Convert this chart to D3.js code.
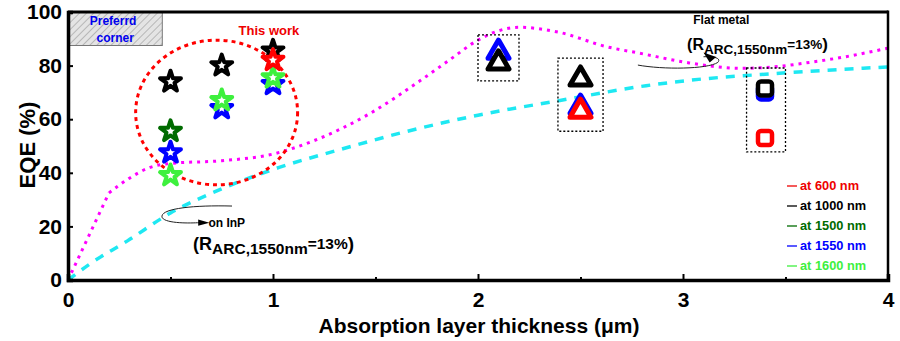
<!DOCTYPE html>
<html><head><meta charset="utf-8">
<script src="https://cdn.jsdelivr.net/npm/d3@7"></script>
<style>
html,body{margin:0;padding:0;background:#fff;}
svg{display:block;font-family:"Liberation Sans",Arial,sans-serif;font-weight:bold;}
</style></head>
<body><svg id="c" width="900" height="341"></svg>
<script>
// ---- data ----
const xTicks = [0, 1, 2, 3, 4];
const xMinor = [0.5, 1.5, 2.5, 3.5];
const yTicks = [0, 20, 40, 60, 80, 100];
const legendLabels = ["at 600 nm", "at 1000 nm", "at 1500 nm", "at 1550 nm", "at 1600 nm"];
const legendColors = ["#ee0000", "#000000", "#006b00", "#0000ff", "#3ef03e"];

// flat metal (magenta dotted) curve
const flatX = [0, 0.2, 0.3, 0.4, 0.5, 0.75, 1.0, 1.2, 1.47, 1.72, 1.85, 2.0, 2.1, 2.2, 2.39, 2.63, 2.79, 3.03, 3.28, 3.44, 3.6, 3.77, 4.0];
const flatY = [0, 32.5, 38, 42, 43.5, 44.5, 47, 52, 62, 74.5, 81.5, 89.5, 93, 94.3, 92.5, 87, 84.6, 81, 79, 79.5, 81, 83, 86.5];
// on InP (cyan dashed) curve
const inpX = [0, 0.107, 0.29, 0.5, 0.75, 1.03, 1.31, 1.63, 2.0, 2.4, 2.82, 3.03, 3.44, 4.0];
const inpY = [0, 6, 14.6, 25, 34, 42, 48.3, 55, 61.5, 67, 72.5, 74.5, 77, 79.5];

// stars (this work)
const starX = [0.5, 0.75, 1.0];
const star1550 = [47.5, 64, 73];
const star1600 = [39, 67, 75.5];
const star1000 = [74, 80, 85.5];
const star1500 = [55.5, null, null];
const star600 = [null, null, 82];
// triangles
const triX = [2.1, 2.5];
const tri1550 = [85, 64.5];
const tri1000 = [81, 75];
const tri600 = [null, 63];
// squares
const sqX = [3.4];
const sq1550 = [70];
const sq1000 = [71.5];
const sq600 = [53];

// ---- layout ----
const svg = d3.select("#c");
const L = 68, R = 888, T = 12, B = 280;
const x = d3.scaleLinear().domain([0, 4]).range([L, R]);
const y = d3.scaleLinear().domain([0, 100]).range([B, T]);

// hatch pattern
const defs = svg.append("defs");
const pat = defs.append("pattern").attr("id", "hatch").attr("patternUnits", "userSpaceOnUse")
  .attr("width", 5).attr("height", 5).attr("patternTransform", "rotate(45)");
pat.append("rect").attr("width", 5).attr("height", 5).attr("fill", "#e4e4e4");
pat.append("line").attr("x1", 0).attr("y1", 0).attr("x2", 0).attr("y2", 5).attr("stroke", "#8a8a8a").attr("stroke-width", 1);

// preferred corner box
svg.append("rect").attr("x", x(0)).attr("y", y(100)).attr("width", x(0.46) - x(0)).attr("height", y(87.5) - y(100))
  .attr("fill", "url(#hatch)").attr("stroke", "#777").attr("stroke-width", 1);
svg.append("text").attr("x", x(0.22)).attr("y", y(95)).attr("text-anchor", "middle").attr("fill", "#0000ee").attr("font-size", 12).text("Preferrd");
svg.append("text").attr("x", x(0.23)).attr("y", y(88.7)).attr("text-anchor", "middle").attr("fill", "#0000ee").attr("font-size", 12).text("corner");

// curves
const kink = 2; // first two points joined straight (sharp knee at 0.2 µm)
const lineA = d3.line().x((d, i) => x(flatX[i])).y(d => y(d));
svg.append("path").attr("d", lineA(flatY.slice(0, kink))).attr("fill", "none").attr("stroke", "#ff00ff")
  .attr("stroke-width", 3).attr("stroke-dasharray", "3,5");
const lineB = d3.line().x((d, i) => x(flatX[i + kink - 1])).y(d => y(d)).curve(d3.curveMonotoneX);
svg.append("path").attr("d", lineB(flatY.slice(kink - 1))).attr("fill", "none").attr("stroke", "#ff00ff")
  .attr("stroke-width", 3).attr("stroke-dasharray", "3,5");
const lineInp = d3.line().x((d, i) => x(inpX[i])).y(d => y(d)).curve(d3.curveMonotoneX);
svg.append("path").attr("d", lineInp(inpY)).attr("fill", "none").attr("stroke", "#1ee8f2")
  .attr("stroke-width", 3.5).attr("stroke-dasharray", "9,8");

// red ellipse "This work"
svg.append("ellipse").attr("cx", x(0.725)).attr("cy", y(62.5))
  .attr("rx", x(0.395) - x(0)).attr("ry", y(0) - y(27))
  .attr("fill", "none").attr("stroke", "#ff0000").attr("stroke-width", 3).attr("stroke-dasharray", "4,4");
svg.append("text").attr("x", x(0.98)).attr("y", y(91.3)).attr("text-anchor", "middle").attr("fill", "#ee0000").attr("font-size", 13).text("This work");

// dotted boxes
const boxes = [[2.0, 2.2, 74.3, 91.5], [2.39, 2.61, 55.5, 82.8], [3.31, 3.5, 47.8, 79.1]];
svg.selectAll(".box").data(boxes).enter().append("rect")
  .attr("x", d => x(d[0])).attr("y", d => y(d[3])).attr("width", d => x(d[1]) - x(d[0])).attr("height", d => y(d[2]) - y(d[3]))
  .attr("fill", "none").attr("stroke", "#000").attr("stroke-width", 1.3).attr("stroke-dasharray", "2,2");

// markers
const starSym = d3.symbol().type(d3.symbolStar).size(135);
function stars(vals, col) {
  svg.append("g").selectAll("path").data(vals.map((v, i) => [starX[i], v]).filter(d => d[1] != null)).enter()
    .append("path").attr("d", starSym).attr("transform", d => `translate(${x(d[0])},${y(d[1])})`)
    .attr("fill", "#fff").attr("stroke", col).attr("stroke-width", 4).attr("stroke-linejoin", "round");
}
stars(star1550, legendColors[3]);
stars(star1600, legendColors[4]);
stars(star1500, legendColors[2]);
stars(star1000, legendColors[1]);
stars(star600, "#ff0000");

const triSym = d3.symbol().type(d3.symbolTriangle).size(190);
function tris(vals, col) {
  svg.append("g").selectAll("path").data(vals.map((v, i) => [triX[i], v]).filter(d => d[1] != null)).enter()
    .append("path").attr("d", triSym).attr("transform", d => `translate(${x(d[0])},${y(d[1])})`)
    .attr("fill", "#fff").attr("stroke", col).attr("stroke-width", 5).attr("stroke-linejoin", "round");
}
tris(tri1550, legendColors[3]);
tris(tri1000, legendColors[1]);
tris(tri600, "#ff0000");

function squares(vals, col) {
  svg.append("g").selectAll("rect").data(vals.map((v, i) => [sqX[i], v])).enter()
    .append("rect").attr("x", d => x(d[0]) - 7).attr("y", d => y(d[1]) - 7).attr("width", 14).attr("height", 14).attr("rx", 3)
    .attr("fill", "#fff").attr("stroke", col).attr("stroke-width", 4.5);
}
squares(sq1550, legendColors[3]);
squares(sq1000, legendColors[1]);
squares(sq600, "#ff0000");

// annotations
function P(a, b) { return [x(a), y(b)]; }
const inpArrow = d3.path();
(function () {
  const p0 = P(0.8, 27.6), c1 = P(0.6, 28), c2 = P(0.44, 26.5), p1 = P(0.46, 23.2), c3 = P(0.48, 21), c4 = P(0.6, 21.2), p2 = P(0.64, 21.4);
  inpArrow.moveTo(...p0); inpArrow.bezierCurveTo(...c1, ...c2, ...p1); inpArrow.bezierCurveTo(...c3, ...c4, ...p2);
})();
svg.append("path").attr("d", inpArrow.toString()).attr("fill", "none").attr("stroke", "#222").attr("stroke-width", 1);
svg.append("path").attr("d", d3.line()([P(0.635, 22.6), P(0.69, 21.4), P(0.635, 20.2)]) + "Z").attr("fill", "#000");
svg.append("text").attr("x", x(0.685)).attr("y", y(19.7)).attr("font-size", 12).text("on InP");
const t1 = svg.append("text").attr("x", x(0.61)).attr("y", y(11.2)).attr("font-size", 18);
t1.append("tspan").text("(R");
t1.append("tspan").attr("font-size", 15.5).attr("dy", 4).text("ARC,1550nm");
t1.append("tspan").attr("font-size", 15.5).attr("dy", -5).text("=13%");
t1.append("tspan").attr("dy", 1).attr("font-size", 19).text(")");

svg.append("text").attr("x", x(3.05)).attr("y", y(95.7)).attr("font-size", 12).text("Flat metal");
const t2 = svg.append("text").attr("x", x(3.02)).attr("y", y(86.0)).attr("font-size", 16);
t2.append("tspan").text("(R");
t2.append("tspan").attr("font-size", 13.5).attr("dy", 4).text("ARC,1550nm");
t2.append("tspan").attr("font-size", 13.5).attr("dy", -5).text("=13%");
t2.append("tspan").attr("dy", 1).attr("font-size", 17).text(")");
const fmArrow = d3.path();
(function () {
  const p0 = P(2.78, 80.2), c1 = P(2.9, 78.5), c2 = P(3.12, 78.6), p1 = P(3.17, 81.2), c3 = P(3.19, 83), c4 = P(3.14, 83.5), p2 = P(3.1, 83.3);
  fmArrow.moveTo(...p0); fmArrow.bezierCurveTo(...c1, ...c2, ...p1); fmArrow.bezierCurveTo(...c3, ...c4, ...p2);
})();
svg.append("path").attr("d", fmArrow.toString()).attr("fill", "none").attr("stroke", "#222").attr("stroke-width", 1);
svg.append("path").attr("d", d3.line()([P(3.1, 84.9), P(3.162, 83.2), P(3.13, 81.2)]) + "Z").attr("fill", "#000");

// legend
const lg = svg.append("g");
legendLabels.forEach((lab, i) => {
  const yy = 190 + i * 20;
  lg.append("line").attr("x1", 787).attr("x2", 797).attr("y1", yy - 4).attr("y2", yy - 4).attr("stroke", legendColors[i]).attr("stroke-width", 1.3);
  lg.append("text").attr("x", 800).attr("y", yy).attr("font-size", 12.8).attr("fill", legendColors[i]).text(lab);
});

// axes frame
svg.append("line").attr("x1", L).attr("x2", R).attr("y1", T).attr("y2", T).attr("stroke", "#000").attr("stroke-width", 3);
svg.append("line").attr("x1", R).attr("x2", R).attr("y1", T - 1.5).attr("y2", B).attr("stroke", "#000").attr("stroke-width", 2.5);
const xAxis = d3.axisBottom(x).tickValues(xTicks).tickSize(-6).tickPadding(12).tickFormat(d3.format("d"));
const gx = svg.append("g").attr("transform", `translate(0,${B})`).call(xAxis);
gx.select(".domain").attr("stroke-width", 3.5);
gx.selectAll(".tick line").attr("stroke-width", 2);
gx.selectAll("text").attr("font-size", 21).attr("font-family", "Liberation Sans, Arial, sans-serif").attr("font-weight", "bold").attr("fill", "#000");
const xm = d3.axisBottom(x).tickValues(xMinor).tickSize(-3).tickFormat("");
const gxm = svg.append("g").attr("transform", `translate(0,${B})`).call(xm);
gxm.select(".domain").remove();
gxm.selectAll(".tick line").attr("stroke-width", 2);

const yAxis = d3.axisLeft(y).tickValues(yTicks).tickSize(-5).tickPadding(6);
const gy = svg.append("g").attr("transform", `translate(${L},0)`).call(yAxis);
gy.select(".domain").attr("stroke-width", 3.5);
gy.selectAll(".tick line").attr("stroke-width", 2);
gy.selectAll("text").attr("font-size", 21).attr("font-family", "Liberation Sans, Arial, sans-serif").attr("font-weight", "bold").attr("fill", "#000");

// axis titles
svg.append("text").attr("x", 479).attr("y", 333).attr("text-anchor", "middle").attr("font-size", 21).text("Absorption layer thickness (\u03bcm)");
svg.append("text").attr("transform", "translate(35,145) rotate(-90)").attr("text-anchor", "middle").attr("font-size", 22).text("EQE (%)");
</script></body></html>
